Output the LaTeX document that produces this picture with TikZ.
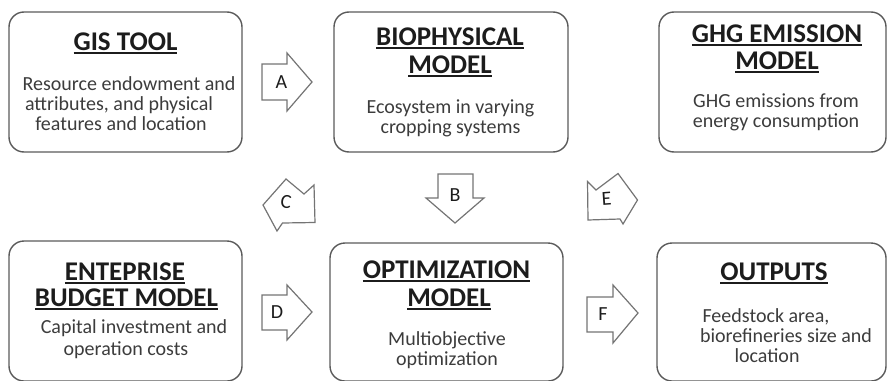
\documentclass[tikz,border=0pt]{standalone}
\usepackage{fontspec}
\setmainfont{Carlito}
\definecolor{boxgray}{HTML}{5A5A5A}
\definecolor{arrowgray}{HTML}{747474}
\definecolor{titlecol}{HTML}{1C1C1C}
\definecolor{bodycol}{HTML}{3C3C3C}
% underlined heading line
\newcommand\headline[1]{\setbox0=\hbox{#1}\rlap{\rule[-3.6pt]{\wd0}{1.8pt}}\box0}
\begin{document}
\begin{tikzpicture}[x=1pt,y=-1pt,
  panel/.style={draw=boxgray, line width=1.4pt, rounded corners=15pt, inner sep=0pt},
  ttl/.style={anchor=base, font=\fontsize{27}{28}\selectfont\bfseries, text=titlecol, inner sep=0pt},
  body/.style={anchor=base, font=\fontsize{20}{20}\selectfont, text=bodycol, inner sep=0pt},
  blockarrow/.style={draw=arrowgray, line width=1.2pt, fill=white, line join=miter},
  tag/.style={font=\fontsize{20}{20}\selectfont, text=titlecol, inner sep=0pt}
]
\useasboundingbox (0,0) rectangle (888,380);
\clip (0,0) rectangle (888,380);

% ---- panels ----
\node[panel, minimum width=233pt, minimum height=140pt] (gis) at (125.5,82) {};
\node[panel, minimum width=234pt, minimum height=140pt] (bio) at (451,82) {};
\node[panel, minimum width=227pt, minimum height=140pt] (ghg) at (772.5,82) {};
\node[panel, minimum width=233pt, minimum height=140pt] (ent) at (125.5,311) {};
\node[panel, minimum width=233pt, minimum height=138pt] (opt) at (446.5,312) {};
\node[panel, minimum width=229pt, minimum height=138pt] (out) at (771.5,312) {};

% ---- GIS tool ----
\node[ttl] (gisT) at (125.5,50) {\headline{GIS TOOL}};
\node[body] (gisB1) at (129,90) {Resource endowment and};
\node[body] (gisB2) at (119,110) {attributes, and physical};
\node[body] (gisB3) at (121,130) {features and location};

% ---- biophysical model ----
\node[ttl] (bioT1) at (450,45) {\headline{BIOPHYSICAL}};
\node[ttl] (bioT2) at (450,73) {\headline{MODEL}};
\node[body] (bioB1) at (450.5,113) {Ecosystem in varying};
\node[body] (bioB2) at (450.5,133) {cropping systems};

% ---- GHG emission model ----
\node[ttl] (ghgT1) at (777,42) {\headline{GHG EMISSION}};
\node[ttl] (ghgT2) at (777,69) {\headline{MODEL}};
\node[body] (ghgB1) at (776,107) {GHG emissions from};
\node[body] (ghgB2) at (776,127) {energy consumption};

% ---- enterprise budget model ----
\node[ttl] (entT1) at (125,280) {\headline{ENTEPRISE}};
\node[ttl] (entT2) at (126.5,306.5) {\headline{BUDGET MODEL}};
\node[body] (entB1) at (134,333) {Capital investment and};
\node[body] (entB2) at (126,355) {operation costs};

% ---- optimization model ----
\node[ttl] (optT1) at (446.5,278) {\headline{OPTIMIZATION}};
\node[ttl] (optT2) at (449,306) {\headline{MODEL}};
\node[body] (optB1) at (447,345) {Multiobjective};
\node[body] (optB2) at (447,365) {optimization};

% ---- outputs ----
\node[ttl] (outT) at (774,280) {\headline{OUTPUTS}};
\node[body] (outB1) at (766,322.5) {Feedstock area,};
\node[body] (outB2) at (786,342.5) {biorefineries size and};
\node[body] (outB3) at (767,362) {location};

% ---- block arrows ----
% A: GIS -> biophysical
\draw[blockarrow] (262,64) -- (287,64) -- (287,53) -- (312,82) -- (287,111) -- (287,100) -- (262,100) -- cycle;
\node[tag] (tagA) at (281.5,82) {A};
% B: biophysical -> optimization
\draw[blockarrow] (438,174) -- (473,174) -- (473,198) -- (484,198) -- (455,223) -- (426,198) -- (438,198) -- cycle;
\node[tag] (tagB) at (455,195) {B};
% C: toward enterprise budget
\draw[blockarrow] (314,185) -- (304,194) -- (286,179) -- (263,205) -- (277,231) -- (282.5,223) -- (315,222.5) -- cycle;
\node[tag, rotate=-8] (tagC) at (286,202) {C};
% D: enterprise budget -> optimization
\draw[blockarrow] (262,295) -- (287,295) -- (287,285) -- (312,312) -- (287,340) -- (287,330) -- (262,330) -- cycle;
\node[tag] (tagD) at (277,312) {D};
% E: toward optimization
\draw[blockarrow] (587.5,181.5) -- (596,190) -- (618,173.5) -- (637.5,200) -- (623,224) -- (620,219) -- (588,220) -- cycle;
\node[tag, rotate=4] (tagE) at (606.5,198.5) {E};
% F: optimization -> outputs
\draw[blockarrow] (587,297) -- (613,297) -- (613,285) -- (638,313) -- (613,343) -- (613,332) -- (587,332) -- cycle;
\node[tag] (tagF) at (603,314) {F};
\end{tikzpicture}
\end{document}
